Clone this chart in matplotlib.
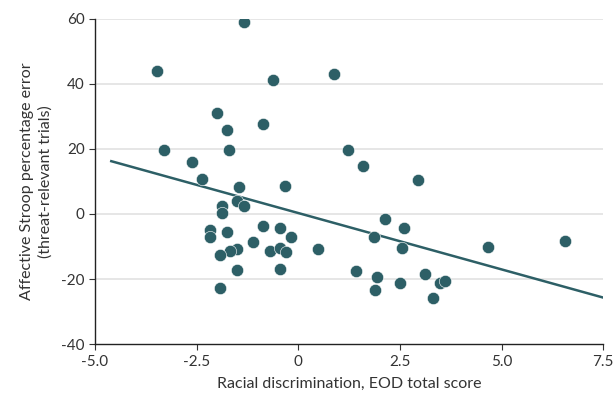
import matplotlib
matplotlib.use("Agg")
import matplotlib.pyplot as plt

# EOD score vs Stroop error
eod = [-1.33, -3.47, -0.62, 0.88, -1.99, -1.75, -0.86, -3.30, -1.70, 1.23,
       -2.61, 1.60, -2.36, 2.95, -0.32, -1.45, -1.50, -1.33, -1.87, -1.87,
       -2.16, -2.17, -1.75, -0.87, -0.44, -0.19, -1.11, -1.50, -1.67, -1.93,
       -0.69, -0.44, -0.30, 0.49, -1.50, -0.44, -1.92, 1.42, 2.13, 2.61,
       1.87, 2.54, 4.67, 6.55, 1.94, 1.88, 2.49, 3.12, 3.49, 3.62, 3.32]
err = [58.9, 43.9, 41.1, 43.0, 30.9, 25.7, 27.6, 19.6, 19.6, 19.6,
       15.9, 14.7, 10.7, 10.4, 8.5, 8.2, 3.9, 2.4, 2.4, 0.2,
       -5.0, -7.2, -5.6, -3.7, -4.4, -7.2, -8.7, -10.8, -11.5, -12.5,
       -11.5, -10.6, -11.7, -10.8, -17.1, -16.8, -22.8, -17.4, -1.5, -4.2,
       -7.1, -10.6, -10.1, -8.4, -19.4, -23.5, -21.1, -18.6, -21.1, -20.5, -25.8]

# fitted line ends
fit_x = [-4.6, 7.5]
fit_y = [16.2, -25.7]

xticks = [-5.0, -2.5, 0, 2.5, 5.0, 7.5]
xlabels = ["-5.0", "-2.5", "0", "2.5", "5.0", "7.5"]
yticks = [-40, -20, 0, 20, 40, 60]
ylabels = ["-40", "-20", "0", "20", "40", "60"]

col = "#2d5f66"
plt.rcParams["font.family"] = ["Lato", "DejaVu Sans"]

fig = plt.figure(figsize=(6.13, 3.96), dpi=100)
ax = fig.add_axes([0.155, 0.131, 0.829, 0.822])

for t in yticks[1:]:
    ax.axhline(t, color="#e2e2e2", lw=1.2, zorder=0)

ax.plot(fit_x, fit_y, color=col, lw=1.8, zorder=2)
ax.scatter(eod, err, s=78, color=col, edgecolor="white", linewidth=0.4, zorder=3)

ax.set_xlim(-5, 7.5)
ax.set_ylim(-40, 60)
ax.set_xticks(xticks)
ax.set_xticklabels(xlabels)
ax.set_yticks(yticks)
ax.set_yticklabels(ylabels)
ax.tick_params(labelsize=11, colors="#333333", length=4, width=0.8)

for s in ["top", "right"]:
    ax.spines[s].set_visible(False)
for s in ["left", "bottom"]:
    ax.spines[s].set_linewidth(1.0)
    ax.spines[s].set_color("#222222")

ax.set_xlabel("Racial discrimination, EOD total score", fontsize=11.5, color="#333333", labelpad=6)
ax.set_ylabel("Affective Stroop percentage error\n(threat-relevant trials)", fontsize=11.5,
              color="#333333", labelpad=6, linespacing=1.35)

fig.savefig("out.png", dpi=100)
